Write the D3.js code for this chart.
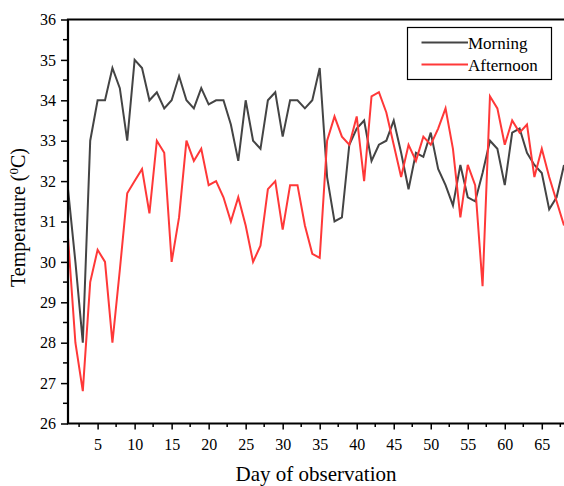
<!DOCTYPE html>
<html>
<head>
<meta charset="utf-8">
<script src="https://cdn.jsdelivr.net/npm/d3@7"></script>
<style>
  html, body { margin: 0; padding: 0; background: #fff; }
  svg { display: block; }
  svg text { font-family: "Liberation Serif", "DejaVu Serif", "Times New Roman", Times, serif !important; fill: #000; }
</style>
</head>
<body>
<svg id="chart" width="564" height="486"></svg>
<script>
const days = d3.range(1, 69);
const morning = [31.8, 30.0, 28.0, 33.0, 34.0, 34.0, 34.8, 34.3, 33.0, 35.0,
  34.8, 34.0, 34.2, 33.8, 34.0, 34.6, 34.0, 33.8, 34.3, 33.9,
  34.0, 34.0, 33.4, 32.5, 34.0, 33.0, 32.8, 34.0, 34.2, 33.1,
  34.0, 34.0, 33.8, 34.0, 34.8, 32.1, 31.0, 31.1, 32.9, 33.3,
  33.5, 32.5, 32.9, 33.0, 33.5, 32.7, 31.8, 32.7, 32.6, 33.2,
  32.3, 31.9, 31.4, 32.4, 31.6, 31.5, 32.2, 33.0, 32.8, 31.9,
  33.2, 33.3, 32.7, 32.4, 32.2, 31.3, 31.6, 32.4];
const afternoon = [30.6, 28.0, 26.8, 29.5, 30.3, 30.0, 28.0, 29.8, 31.7, 32.0,
  32.3, 31.2, 33.0, 32.7, 30.0, 31.1, 33.0, 32.5, 32.8, 31.9,
  32.0, 31.6, 31.0, 31.6, 30.9, 30.0, 30.4, 31.8, 32.0, 30.8,
  31.9, 31.9, 30.9, 30.2, 30.1, 33.0, 33.6, 33.1, 32.9, 33.6,
  32.0, 34.1, 34.2, 33.7, 32.9, 32.1, 32.9, 32.5, 33.1, 32.9,
  33.3, 33.8, 32.8, 31.1, 32.4, 31.9, 29.4, 34.1, 33.8, 32.9,
  33.5, 33.2, 33.4, 32.1, 32.8, 32.1, 31.5, 30.9];
const seriesNames = ["Morning", "Afternoon"];
const seriesColors = ["#444444", "#ff3838"];
const xTicks = [5, 10, 15, 20, 25, 30, 35, 40, 45, 50, 55, 60, 65];
const yTicks = [26, 27, 28, 29, 30, 31, 32, 33, 34, 35, 36];
const xLabel = "Day of observation";

const FONT = '"Liberation Serif", "DejaVu Serif", "Times New Roman", Times, serif';
const svg = d3.select("#chart").attr("font-family", FONT);
const mLeft = 68, mRight = 564, mTop = 19.5, mBottom = 423.5;

const x = d3.scaleLinear().domain([1, 68]).range([mLeft, mRight]);
const y = d3.scaleLinear().domain([26, 36]).range([mBottom, mTop]);

// minor ticks
const xMinor = d3.range(2.5, 68, 5);
const yMinor = d3.range(26.5, 36, 1);

const g = svg.append("g");

// lines
const series = [morning, afternoon];
const line = d3.line().x((d, i) => x(days[i])).y(d => y(d));
series.forEach((s, k) => {
  g.append("path").datum(s)
    .attr("fill", "none")
    .attr("stroke", seriesColors[k])
    .attr("stroke-width", 2)
    .attr("stroke-linejoin", "miter")
    .attr("d", line);
});

// x axis
const xAxis = g.append("g").attr("transform", `translate(0,${mBottom})`)
  .call(d3.axisBottom(x).tickValues(xTicks).tickSize(6).tickPadding(9).tickFormat(d3.format("d")));
xAxis.attr("font-family", FONT);
xAxis.select(".domain").remove();
xAxis.selectAll(".tick line").attr("stroke", "#000").attr("stroke-width", 1.5);
xAxis.selectAll("text").style("font-size", "16px").style("font-family", FONT).attr("fill", "#000");
g.append("g").selectAll("line").data(xMinor).join("line")
  .attr("x1", d => x(d)).attr("x2", d => x(d))
  .attr("y1", mBottom).attr("y2", mBottom + 3.5)
  .attr("stroke", "#000").attr("stroke-width", 1.5);

// y axis
const yAxis = g.append("g").attr("transform", `translate(${mLeft},0)`)
  .call(d3.axisLeft(y).tickValues(yTicks).tickSize(7).tickPadding(5).tickFormat(d3.format("d")));
yAxis.attr("font-family", FONT);
yAxis.select(".domain").remove();
yAxis.selectAll(".tick line").attr("stroke", "#000").attr("stroke-width", 1.5);
yAxis.selectAll("text").style("font-size", "16px").style("font-family", FONT).attr("fill", "#000");
g.append("g").selectAll("line").data(yMinor).join("line")
  .attr("x1", mLeft - 5).attr("x2", mLeft)
  .attr("y1", d => y(d)).attr("y2", d => y(d))
  .attr("stroke", "#000").attr("stroke-width", 1.5);

// frame lines
g.append("path")
  .attr("d", `M${mLeft},${mTop}H${mRight + 2}M${mLeft},${mTop - 1}V${mBottom + 1}M${mLeft - 1},${mBottom}H${mRight + 2}`)
  .attr("stroke", "#000").attr("stroke-width", 2.2).attr("fill", "none");

// axis titles
svg.append("text")
  .attr("x", (mLeft + mRight) / 2).attr("y", 481)
  .attr("text-anchor", "middle")
  .style("font-size", "21px").style("font-family", FONT)
  .text(xLabel);

const yt = svg.append("text")
  .attr("transform", `translate(25,${(mTop + mBottom) / 2 - 4}) rotate(-90)`)
  .attr("text-anchor", "middle")
  .style("font-size", "20px").style("font-family", FONT);
yt.append("tspan").text("Temperature (");
yt.append("tspan").attr("baseline-shift", "super").style("font-size", "13px").text("0");
yt.append("tspan").text("C)");

// legend
const lg = svg.append("g");
lg.append("rect")
  .attr("x", 407.5).attr("y", 27.5).attr("width", 144).attr("height", 52)
  .attr("fill", "#fff").attr("stroke", "#000").attr("stroke-width", 1.2);
seriesNames.forEach((name, k) => {
  const ly = 42.5 + k * 22;
  lg.append("line")
    .attr("x1", 421.5).attr("x2", 468).attr("y1", ly).attr("y2", ly)
    .attr("stroke", seriesColors[k]).attr("stroke-width", 2);
  lg.append("text")
    .attr("x", 468).attr("y", ly + 6)
    .style("font-size", "17px").style("font-family", FONT)
    .text(name);
});
</script>
</body>
</html>
